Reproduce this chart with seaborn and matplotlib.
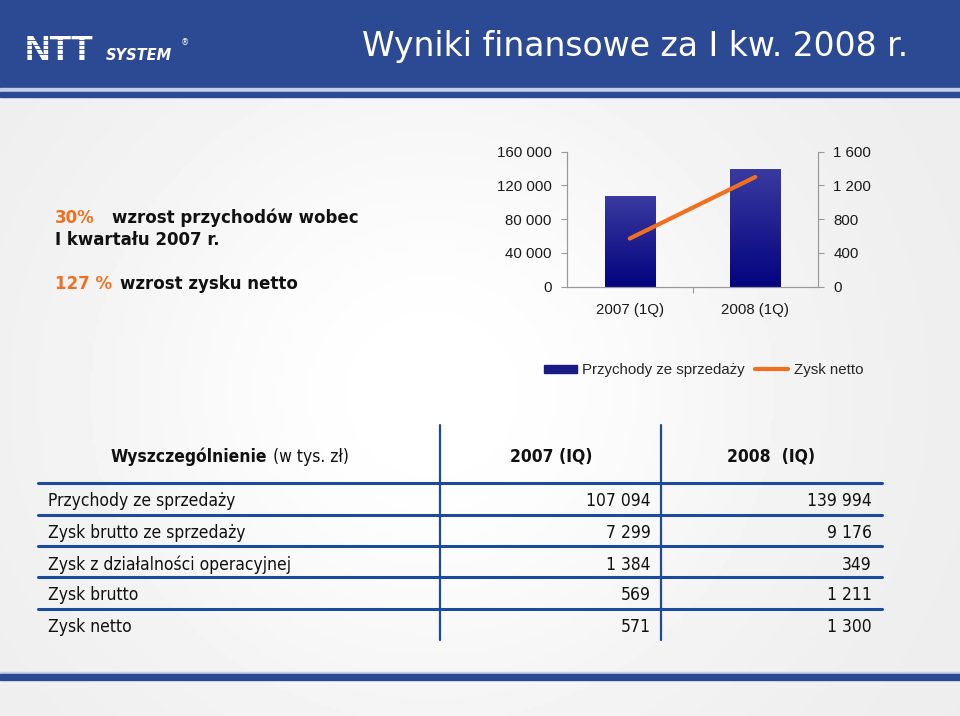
import os
import numpy as np
import matplotlib
matplotlib.use("Agg")
import matplotlib.pyplot as plt
import seaborn as sns
from matplotlib.patches import Rectangle
from matplotlib.lines import Line2D
from matplotlib.colors import LinearSegmentedColormap
from matplotlib import font_manager as fm

# ---------------- data ----------------
categories = ["2007 (1Q)", "2008 (1Q)"]
przychody = [107094, 139994]
zysk_netto = [571, 1300]
left_ticks = [0, 40000, 80000, 120000, 160000]
left_tick_labels = ["0", "40 000", "80 000", "120 000", "160 000"]
right_ticks = [0, 400, 800, 1200, 1600]
right_tick_labels = ["0", "400", "800", "1 200", "1 600"]
legend_labels = ["Przychody ze sprzedaży", "Zysk netto"]

table_rows = ["Przychody ze sprzedaży", "Zysk brutto ze sprzedaży",
              "Zysk z działalności operacyjnej", "Zysk brutto", "Zysk netto"]
table_2007 = ["107 094", "7 299", "1 384", "569", "571"]
table_2008 = ["139 994", "9 176", "349", "1 211", "1 300"]
table_headers = ["2007 (IQ)", "2008  (IQ)"]

title = "Wyniki finansowe za I kw. 2008 r."

# ---------------- style ----------------
W, H = 960, 716
sns.set_theme(style="white")
plt.rcParams['font.family'] = ['Liberation Sans', 'DejaVu Sans']

BLUE = '#2c4a94'
LINE_BLUE = '#1d4b9b'
ORANGE = '#f07020'
NAVY = '#1b1b86'


def fx(x):
    return x / W


def fy(y):
    return 1 - y / H


def find_font(base):
    for f in fm.fontManager.ttflist:
        if os.path.basename(f.fname) == base:
            return f.fname
    return None


cond_reg = find_font('DejaVuSansCondensed.ttf')
cond_bold = find_font('DejaVuSansCondensed-Bold.ttf')
if cond_reg and cond_bold:
    tab_font = fm.FontProperties(fname=cond_reg, size=12.5)
    tab_font_b = fm.FontProperties(fname=cond_bold, size=12.5)
else:
    tab_font = fm.FontProperties(family='DejaVu Sans', size=11.5)
    tab_font_b = fm.FontProperties(family='DejaVu Sans', weight='bold', size=11.5)

fig = plt.figure(figsize=(9.6, 7.16), dpi=100)

# ---------------- background ----------------
bg = fig.add_axes([0, 0, 1, 1], zorder=-10)
gx, gy = np.meshgrid(np.linspace(0, 1, 300), np.linspace(0, 1, 220))
field = 0.925 + 0.075 * np.exp(-(((gx - 0.45) ** 2) / 0.15 + ((gy - 0.55) ** 2) / 0.25))
bg.imshow(field, cmap='gray', vmin=0, vmax=1, extent=[0, 1, 0, 1], aspect='auto')
bg.set_axis_off()

# header bands
fig.add_artist(Rectangle((0, fy(88)), 1, 88 / H, transform=fig.transFigure, color=BLUE, zorder=1))
fig.add_artist(Rectangle((0, fy(91.5)), 1, 3.5 / H, transform=fig.transFigure, color='#c3cfe6', zorder=1))
fig.add_artist(Rectangle((0, fy(97)), 1, 5.5 / H, transform=fig.transFigure, color=BLUE, zorder=1))
# footer band
fig.add_artist(Rectangle((0, fy(674)), 1, 2.5 / H, transform=fig.transFigure, color='#c3cfe6', zorder=1))
fig.add_artist(Rectangle((0, fy(680)), 1, 6 / H, transform=fig.transFigure, color=BLUE, zorder=1))

# logo
fig.text(fx(25), fy(60), "NTT", color='white', fontsize=25.5, fontweight='bold',
         family='Liberation Sans', ha='left', va='baseline', zorder=3)
for yy in [40, 44.5, 49, 53.5]:
    fig.add_artist(Line2D([fx(23), fx(96)], [fy(yy), fy(yy)], transform=fig.transFigure,
                          color=BLUE, lw=0.6, zorder=4))
fig.text(fx(106), fy(60), "SYSTEM", color='white', fontsize=10.5, fontweight='bold',
         style='italic', family='DejaVu Sans', ha='left', va='baseline', zorder=3)
fig.text(fx(181), fy(45), "®", color='white', fontsize=6, family='DejaVu Sans',
         ha='left', va='baseline', zorder=3)

# title
fig.text(fx(362), fy(56), title, color='white', fontsize=23.8, family='DejaVu Sans',
         ha='left', va='baseline', zorder=3)

# left text
kw = dict(fontsize=12, fontweight='bold', family='DejaVu Sans', ha='left', va='baseline')
fig.text(fx(55), fy(223), "30%", color=ORANGE, **kw)
fig.text(fx(112), fy(223), "wzrost przychodów wobec", color='#111111', **kw)
fig.text(fx(55), fy(245), "I kwartału 2007 r.", color='#111111', **kw)
fig.text(fx(55), fy(289), "127 %", color=ORANGE, **kw)
fig.text(fx(120), fy(289), "wzrost zysku netto", color='#111111', **kw)

# ---------------- chart ----------------
ax = fig.add_axes([fx(567), fy(286.7), fx(818) - fx(567), (286.7 - 151.7) / H])
ax.set_facecolor('none')
sns.barplot(x=categories, y=przychody, ax=ax, color=NAVY, width=0.4, saturation=1)
ax.set_xlim(-0.5, 1.5)
ax.set_ylim(0, 160000)

cmap = LinearSegmentedColormap.from_list('bar', ['#03037f', '#3a3aa0'])
grad = np.linspace(0, 1, 256).reshape(-1, 1)
for p in list(ax.patches):
    x0, w, h = p.get_x(), p.get_width(), p.get_height()
    im = ax.imshow(grad, cmap=cmap, origin='lower', extent=[x0, x0 + w, 0, h],
                   aspect='auto', zorder=p.get_zorder() + 0.1)
    im.set_clip_path(p)
ax.set_xlim(-0.5, 1.5)
ax.set_ylim(0, 160000)

ax.set_yticks(left_ticks)
ax.set_yticklabels(left_tick_labels)
ax.set_xticks(range(len(categories)))
ax.set_xticklabels(categories)
ax.set_xticks([0.5], minor=True)
ax.set_xlabel('')
ax.set_ylabel('')

SP = '#9a9a9a'
for s in ['left', 'bottom', 'right']:
    ax.spines[s].set_color(SP)
    ax.spines[s].set_linewidth(0.8)
    ax.spines[s].set_visible(True)
ax.spines['top'].set_visible(False)
ax.tick_params(axis='y', left=True, length=4, width=0.8, color=SP, pad=7,
               labelsize=10.8, labelcolor='#1a1a1a', direction='out')
ax.tick_params(axis='x', which='major', bottom=True, length=0, pad=12,
               labelsize=10.8, labelcolor='#1a1a1a')
ax.tick_params(axis='x', which='minor', bottom=True, length=4, width=0.8, color=SP,
               direction='out')

ax2 = ax.twinx()
ax2.set_facecolor('none')
sns.lineplot(x=np.arange(len(categories)), y=zysk_netto, ax=ax2, color=ORANGE,
             lw=3, solid_capstyle='round')
ax2.set_ylim(0, 1600)
ax2.set_xlim(-0.5, 1.5)
ax2.set_yticks(right_ticks)
ax2.set_yticklabels(right_tick_labels)
ax2.set_ylabel('')
for s in ['left', 'bottom', 'right']:
    ax2.spines[s].set_color(SP)
    ax2.spines[s].set_linewidth(0.8)
ax2.spines['top'].set_visible(False)
ax2.tick_params(axis='y', right=True, length=4, width=0.8, color=SP, pad=7,
                labelsize=10.8, labelcolor='#1a1a1a', direction='out')

handles = [Rectangle((0, 0), 1, 1, color=NAVY),
           Line2D([0], [0], color=ORANGE, lw=3)]
fig.legend(handles, legend_labels, loc='center left', bbox_to_anchor=(fx(544), fy(370)),
           ncol=2, frameon=False, fontsize=10.8, handlelength=2.2, handleheight=0.45,
           handletextpad=0.35, columnspacing=0.7, borderpad=0, borderaxespad=0)

# ---------------- table ----------------
for yy in [482.5, 514.7, 545.7, 577, 609]:
    fig.add_artist(Line2D([fx(38), fx(882)], [fy(yy), fy(yy)], transform=fig.transFigure,
                          color=LINE_BLUE, lw=2.2, zorder=2))
for xx in [440, 661]:
    fig.add_artist(Line2D([fx(xx), fx(xx)], [fy(425), fy(640)], transform=fig.transFigure,
                          color=LINE_BLUE, lw=1.6, zorder=2))

hdr_y = 462
t1 = fig.text(fx(111), fy(hdr_y), "Wyszczególnienie", fontproperties=tab_font_b,
              color='#111111', ha='left', va='baseline')
fig.canvas.draw()
bb = t1.get_window_extent()
fig.text(bb.x1 / W, fy(hdr_y), " (w tys. zł)", fontproperties=tab_font,
         color='#111111', ha='left', va='baseline')
fig.text(fx(551), fy(hdr_y), table_headers[0], fontproperties=tab_font_b,
         color='#111111', ha='center', va='baseline')
fig.text(fx(771), fy(hdr_y), table_headers[1], fontproperties=tab_font_b,
         color='#111111', ha='center', va='baseline')

row_base = [506.5, 538, 569.5, 600.5, 632]
for name, v7, v8, yb in zip(table_rows, table_2007, table_2008, row_base):
    fig.text(fx(48), fy(yb), name, fontproperties=tab_font, color='#111111',
             ha='left', va='baseline')
    fig.text(fx(651), fy(yb), v7, fontproperties=tab_font, color='#111111',
             ha='right', va='baseline')
    fig.text(fx(872), fy(yb), v8, fontproperties=tab_font, color='#111111',
             ha='right', va='baseline')

fig.savefig('out.png', dpi=100)
